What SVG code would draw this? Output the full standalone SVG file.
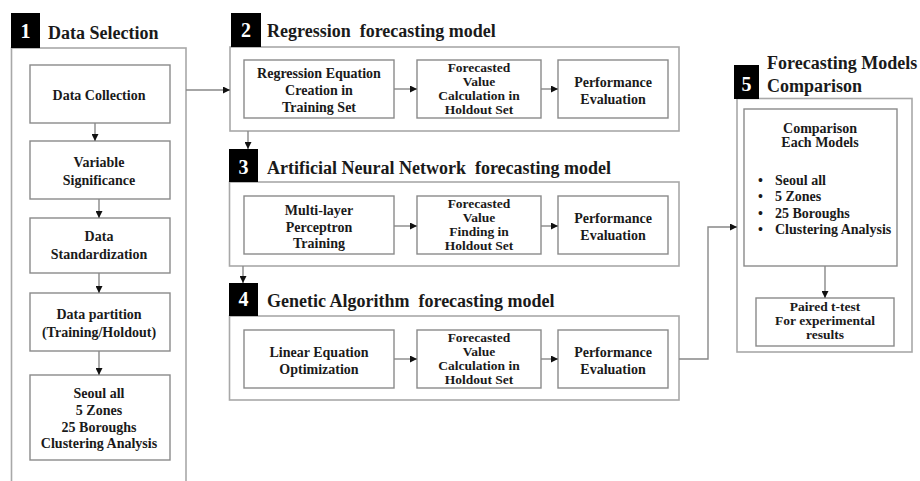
<svg xmlns="http://www.w3.org/2000/svg" width="920" height="481" viewBox="0 0 920 481">
<defs>
<style>
.outer{fill:none;stroke:#a8a8a8;stroke-width:1.6}
.inner{fill:#fff;stroke:#8a8a8a;stroke-width:1.4}
.badge{fill:#000}
.num{font-weight:bold;font-size:20px;fill:#fff;text-anchor:middle}
.title{font-weight:bold;font-size:18px;fill:#1a1a1a}
.t{font-weight:bold;font-size:14px;fill:#1a1a1a;text-anchor:middle}
.t4{font-weight:bold;font-size:13.5px;fill:#1a1a1a;text-anchor:middle}
.tl{font-weight:bold;font-size:14px;fill:#1a1a1a}
.conn{fill:none;stroke:#888;stroke-width:1.4}
</style>
<marker id="ah" viewBox="0 0 10 10" refX="10" refY="5" markerWidth="7" markerHeight="7" markerUnits="userSpaceOnUse" orient="auto">
<path d="M0,0 L10,5 L0,10 z" fill="#111"/>
</marker>
</defs>
<rect width="920" height="481" fill="#fff"/>
<g font-family="'Liberation Serif', 'Times New Roman', 'DejaVu Serif', serif">

<g id="section1">
<rect class="outer" x="11.5" y="48" width="174.5" height="460"/>
<rect class="badge" x="11" y="13" width="29" height="35"/>
<text class="num" x="25.5" y="38">1</text>
<text class="title" x="48" y="39">Data Selection</text>
<g id="n1a"><rect class="inner" x="30" y="65" width="140" height="58"/><text class="t" x="99" y="100">Data Collection</text></g>
<g id="n1b"><rect class="inner" x="30" y="141" width="140" height="58"/><text class="t" x="99" y="167">Variable</text><text class="t" x="99" y="185">Significance</text></g>
<g id="n1c"><rect class="inner" x="30" y="218" width="140" height="55"/><text class="t" x="99" y="241">Data</text><text class="t" x="99" y="259">Standardization</text></g>
<g id="n1d"><rect class="inner" x="30" y="293" width="140" height="58"/><text class="t" x="99" y="319">Data partition</text><text class="t" x="99" y="337">(Training/Holdout)</text></g>
<g id="n1e"><rect class="inner" x="30" y="375" width="140" height="85"/><text class="t" x="99" y="398">Seoul all</text><text class="t" x="99" y="415">5 Zones</text><text class="t" x="99" y="432">25 Boroughs</text><text class="t" x="99" y="448">Clustering Analysis</text></g>
</g>

<g id="section2">
<rect class="outer" x="230" y="47" width="449" height="84"/>
<rect class="badge" x="231" y="13" width="30" height="34"/>
<text class="num" x="246" y="37">2</text>
<text class="title" x="267" y="37" xml:space="preserve">Regression  forecasting model</text>
<g id="n2a"><rect class="inner" x="244" y="60" width="150" height="58"/><text class="t" x="319" y="78">Regression Equation</text><text class="t" x="319" y="95">Creation in</text><text class="t" x="319" y="112">Training Set</text></g>
<g id="n2b"><rect class="inner" x="417" y="60" width="124" height="58"/><text class="t4" x="479" y="72">Forecasted</text><text class="t4" x="479" y="86">Value</text><text class="t4" x="479" y="100">Calculation in</text><text class="t4" x="479" y="114">Holdout Set</text></g>
<g id="n2c"><rect class="inner" x="558" y="60" width="110" height="58"/><text class="t" x="613" y="87">Performance</text><text class="t" x="613" y="104">Evaluation</text></g>
</g>

<g id="section3">
<rect class="outer" x="229.5" y="182" width="449.5" height="84"/>
<rect class="badge" x="229" y="149" width="29" height="33"/>
<text class="num" x="243.5" y="174">3</text>
<text class="title" x="267" y="174" xml:space="preserve">Artificial Neural Network  forecasting model</text>
<g id="n3a"><rect class="inner" x="244" y="196" width="150" height="58"/><text class="t" x="319" y="215">Multi-layer</text><text class="t" x="319" y="232">Perceptron</text><text class="t" x="319" y="248">Training</text></g>
<g id="n3b"><rect class="inner" x="417" y="196" width="124" height="58"/><text class="t4" x="479" y="208">Forecasted</text><text class="t4" x="479" y="222">Value</text><text class="t4" x="479" y="236">Finding in</text><text class="t4" x="479" y="250">Holdout Set</text></g>
<g id="n3c"><rect class="inner" x="558" y="196" width="110" height="58"/><text class="t" x="613" y="223">Performance</text><text class="t" x="613" y="240">Evaluation</text></g>
</g>

<g id="section4">
<rect class="outer" x="229.5" y="316" width="449.5" height="84"/>
<rect class="badge" x="229" y="283" width="29" height="33"/>
<text class="num" x="243.5" y="306">4</text>
<text class="title" x="267" y="307" xml:space="preserve">Genetic Algorithm  forecasting model</text>
<g id="n4a"><rect class="inner" x="244" y="330" width="150" height="58"/><text class="t" x="319" y="357">Linear Equation</text><text class="t" x="319" y="374">Optimization</text></g>
<g id="n4b"><rect class="inner" x="417" y="330" width="124" height="58"/><text class="t4" x="479" y="342">Forecasted</text><text class="t4" x="479" y="356">Value</text><text class="t4" x="479" y="370">Calculation in</text><text class="t4" x="479" y="384">Holdout Set</text></g>
<g id="n4c"><rect class="inner" x="558" y="330" width="110" height="58"/><text class="t" x="613" y="357">Performance</text><text class="t" x="613" y="374">Evaluation</text></g>
</g>

<g id="section5">
<rect class="outer" x="737" y="98.5" width="175" height="253.5"/>
<rect class="badge" x="734" y="65" width="25" height="34"/>
<text class="num" x="746.5" y="91">5</text>
<text class="title" x="767" y="69">Forecasting Models</text>
<text class="title" x="767" y="92">Comparison</text>
<g id="n5a"><rect class="inner" x="744" y="109" width="153" height="157"/>
<text class="t" x="820" y="133">Comparison</text><text class="t" x="820" y="147">Each Models</text>
<text class="tl" x="758" y="185">•</text><text class="tl" x="775" y="185">Seoul all</text>
<text class="tl" x="758" y="201">•</text><text class="tl" x="775" y="201">5 Zones</text>
<text class="tl" x="758" y="218">•</text><text class="tl" x="775" y="218">25 Boroughs</text>
<text class="tl" x="758" y="234">•</text><text class="tl" x="775" y="234">Clustering Analysis</text>
</g>
<g id="n5b"><rect class="inner" x="756" y="298" width="138" height="48"/><text class="t4" x="825" y="311">Paired t-test</text><text class="t4" x="825" y="325">For experimental</text><text class="t4" x="825" y="339">results</text></g>
</g>
</g>

<g id="connectors">
<line class="conn" x1="95" y1="123" x2="95" y2="141" marker-end="url(#ah)"/>
<line class="conn" x1="99" y1="199" x2="99" y2="218" marker-end="url(#ah)"/>
<line class="conn" x1="99" y1="273" x2="99" y2="293" marker-end="url(#ah)"/>
<line class="conn" x1="99" y1="351" x2="99" y2="375" marker-end="url(#ah)"/>
<line class="conn" x1="186" y1="90" x2="230" y2="90" marker-end="url(#ah)"/>
<line class="conn" x1="394" y1="89" x2="417" y2="89" marker-end="url(#ah)"/>
<line class="conn" x1="541" y1="89" x2="558" y2="89" marker-end="url(#ah)"/>
<line class="conn" x1="394" y1="226" x2="417" y2="226" marker-end="url(#ah)"/>
<line class="conn" x1="541" y1="226" x2="558" y2="226" marker-end="url(#ah)"/>
<line class="conn" x1="394" y1="359" x2="417" y2="359" marker-end="url(#ah)"/>
<line class="conn" x1="541" y1="359" x2="558" y2="359" marker-end="url(#ah)"/>
<line class="conn" x1="248" y1="131" x2="248" y2="149" marker-end="url(#ah)"/>
<line class="conn" x1="243" y1="266" x2="243" y2="283" marker-end="url(#ah)"/>
<polyline class="conn" points="679,359 708,359 708,227 737,227" marker-end="url(#ah)"/>
<line class="conn" x1="825" y1="266" x2="825" y2="298" marker-end="url(#ah)"/>
</g>
</svg>
